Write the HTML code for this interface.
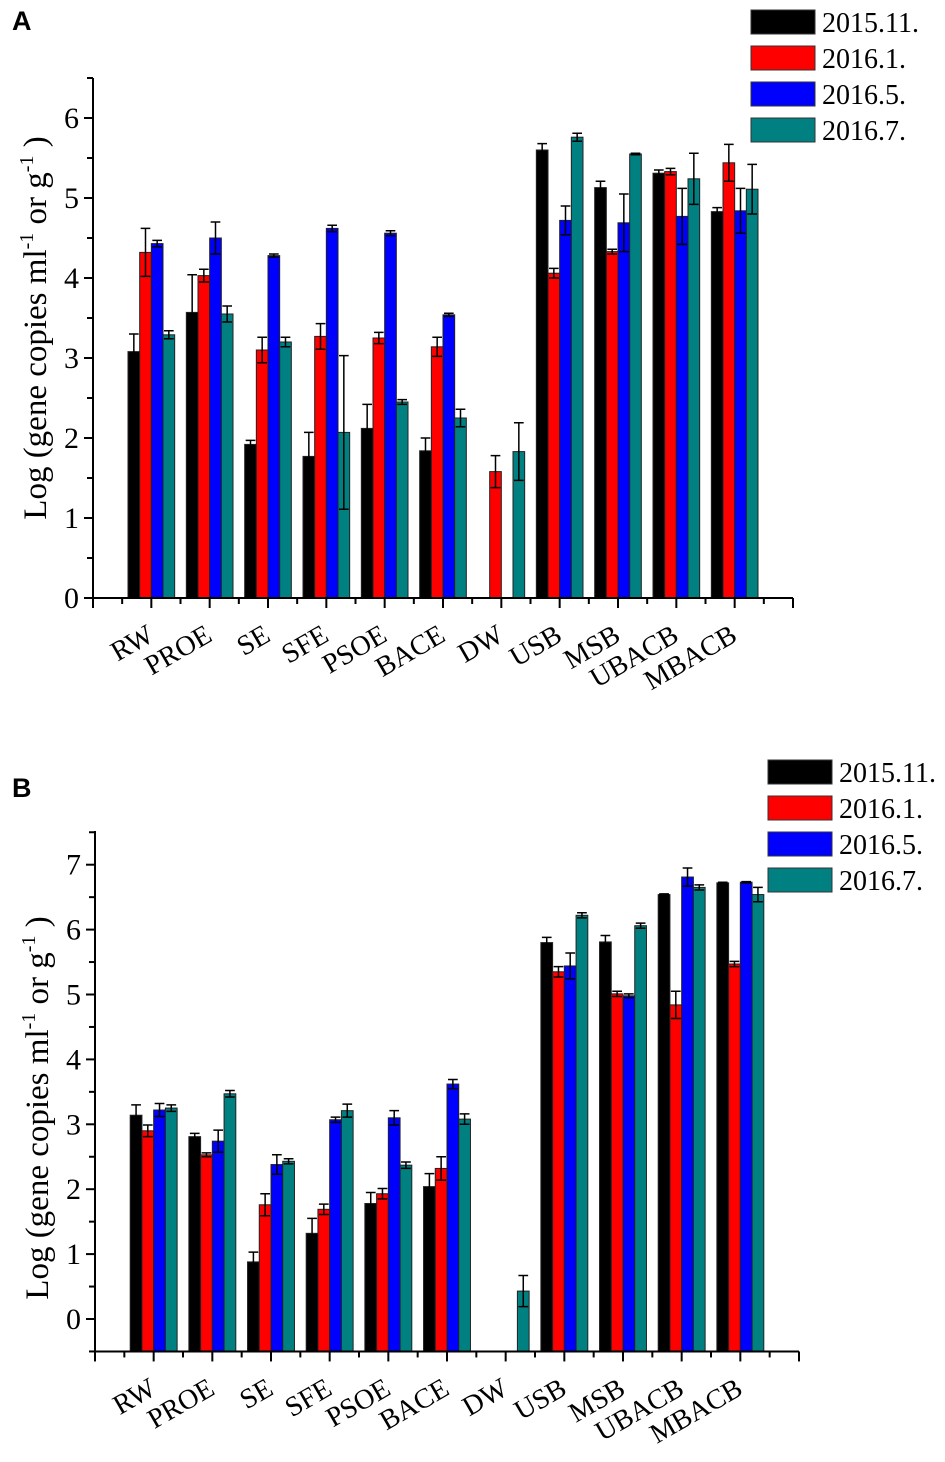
<!DOCTYPE html>
<html><head><meta charset="utf-8">
<style>
html,body{margin:0;padding:0;background:#fff;}
svg{display:block;}
text{font-family:"Liberation Serif",serif;fill:#000;}
</style></head>
<body>
<svg id="chart" width="945" height="1462" viewBox="0 0 945 1462" xmlns="http://www.w3.org/2000/svg"></svg>
<script>
const categories = ["RW","PROE","SE","SFE","PSOE","BACE","DW","USB","MSB","UBACB","MBACB"];
const seriesNames = ["2015.11.","2016.1.","2016.5.","2016.7."];
const seriesColors = ["#000000","#ff0000","#0000ff","#008080"];

const aNov15 = [3.08,3.57,1.92,1.77,2.12,1.84,0,5.60,5.13,5.31,4.83];
const aJan16 = [4.32,4.03,3.10,3.27,3.25,3.14,1.58,4.06,4.33,5.33,5.44];
const aMay16 = [4.43,4.50,4.28,4.62,4.56,3.54,0,4.72,4.69,4.77,4.84];
const aJul16 = [3.29,3.55,3.20,2.07,2.45,2.25,1.83,5.76,5.55,5.24,5.11];
const aErrNov15 = [0.22,0.47,0.05,0.30,0.30,0.16,0,0.08,0.08,0.04,0.05];
const aErrJan16 = [0.30,0.08,0.16,0.16,0.07,0.12,0.20,0.06,0.03,0.04,0.23];
const aErrMay16 = [0.04,0.20,0.02,0.04,0.03,0.02,0,0.18,0.36,0.35,0.28];
const aErrJul16 = [0.05,0.10,0.06,0.96,0.03,0.11,0.36,0.05,0.01,0.32,0.31];
const aTicks = [0,1,2,3,4,5,6];

const bNov15 = [3.14,2.81,0.88,1.32,1.78,2.04,0,5.80,5.81,6.54,6.72];
const bJan16 = [2.90,2.53,1.76,1.69,1.93,2.32,0,5.35,5.01,4.84,5.47];
const bMay16 = [3.22,2.74,2.38,3.07,3.10,3.62,0,5.44,4.98,6.81,6.73];
const bJul16 = [3.25,3.47,2.43,3.21,2.37,3.08,0.43,6.22,6.06,6.65,6.54];
const bErrNov15 = [0.16,0.05,0.15,0.23,0.17,0.20,0,0.08,0.10,0.01,0.01];
const bErrJan16 = [0.09,0.03,0.17,0.08,0.08,0.18,0,0.08,0.04,0.21,0.04];
const bErrMay16 = [0.10,0.17,0.15,0.04,0.11,0.07,0,0.20,0.03,0.14,0.01];
const bErrJul16 = [0.05,0.05,0.04,0.10,0.05,0.08,0.24,0.04,0.04,0.04,0.11];
const bTicks = [0,1,2,3,4,5,6,7];

const NS = "http://www.w3.org/2000/svg";
const svg = document.getElementById("chart");
function mk(tag, attrs, parent){
  const e = document.createElementNS(NS, tag);
  for (const k in attrs) e.setAttribute(k, attrs[k]);
  (parent||svg).appendChild(e);
  return e;
}

function panel(cfg){
  const g = mk("g", {});
  
  
  const yS = v => cfg.y0 - (v) * cfg.ppu;
  const step = (cfg.xRight - cfg.xLeft) / 12;
  const xS = i => cfg.xLeft + (i + 1) * step;
  const bw = step * 0.2;
  const vals = cfg.vals, errs = cfg.errs;
  for (let s = 0; s < 4; s++){
    for (let i = 0; i < categories.length; i++){
      const v = vals[s][i];
      if (v <= 0) continue;
      const x = xS(i) - 2 * bw + s * bw;
      const r = mk("rect", {x: x, y: yS(v), width: bw, height: yS(cfg.yMin) - yS(v), fill: seriesColors[s], stroke: "#222", "stroke-width": 1}, g);
      
      
      const e = errs[s][i];
      if (e > 0){
        const cx = x + bw / 2;
        const eb = mk("path", {d: "M"+cx+","+yS(v+e)+"V"+yS(v-e)+"M"+(x+1)+","+yS(v+e)+"H"+(x+bw-1)+"M"+(x+1)+","+yS(v-e)+"H"+(x+bw-1), stroke: "#000", "stroke-width": 1.5, fill: "none"}, g);
        
        
      }
    }
  }
  const ax = mk("path", {d: "M"+cfg.xLeft+","+cfg.yTop+"V"+yS(cfg.yMin)+"H"+cfg.xRight, stroke: "#000", "stroke-width": 2, fill: "none"}, g);
  
  
  for (let v = cfg.yMin; v <= cfg.yMax + 1e-9; v += 0.5){
    const major = Math.abs(v - Math.round(v)) < 1e-9;
    mk("line", {x1: cfg.xLeft - (major ? 9 : 6), x2: cfg.xLeft, y1: yS(v), y2: yS(v), stroke: "#000", "stroke-width": 2}, g);
  }
  cfg.ticks.forEach(t => {
    const tl = mk("text", {x: cfg.xLeft - 14, y: yS(t) + 10, "text-anchor": "end", "font-size": 30}, g);
    tl.textContent = t;
    
    
  });
  for (let k = 0; k <= 24; k++){
    const x = cfg.xLeft + k * step / 2;
    mk("line", {x1: x, x2: x, y1: yS(cfg.yMin), y2: yS(cfg.yMin) + (k % 2 === 0 ? 10 : 6), stroke: "#000", "stroke-width": 2}, g);
  }
  categories.forEach((c, i) => {
    const x = xS(i) + 4, y = yS(cfg.yMin) + 42;
    const t = mk("text", {x: x, y: y, "text-anchor": "end", "font-size": 28, transform: "rotate(-30 " + x + " " + y + ")"}, g);
    t.textContent = c;
    
    
  });
  const ty = mk("text", {x: 0, y: 0, "text-anchor": "middle", "font-size": 33, transform: "translate(" + cfg.titleX + "," + cfg.titleY + ") rotate(-90)"}, g);
  
  
  ty.innerHTML = 'Log (gene copies ml<tspan dy="-13" font-size="20">-1</tspan><tspan dy="13"> or g</tspan><tspan dy="-13" font-size="20">-1</tspan><tspan dy="13"> )</tspan>';
  const pl = mk("text", {x: 12, y: cfg.letterY, "font-size": 27, "font-weight": "bold", style: "font-family:'Liberation Sans',sans-serif"}, g);
  pl.textContent = cfg.letter;
  
  
  seriesNames.forEach((n, s) => {
    const ly = cfg.legY + s * 36;
    const lr = mk("rect", {x: cfg.legX, y: ly, width: 64, height: 24, fill: seriesColors[s], stroke: "#333", "stroke-width": 1}, g);
    
    
    const lt = mk("text", {x: cfg.legX + 71, y: ly + 22, "font-size": 28}, g);
    lt.textContent = n;
    
    
  });
}

panel({name: "panel-a", letter: "A", letterY: 30, xLeft: 93, xRight: 793, y0: 598, ppu: 80, yMin: 0, yMax: 6.5, yTop: 78,
  ticks: aTicks, vals: [aNov15, aJan16, aMay16, aJul16], errs: [aErrNov15, aErrJan16, aErrMay16, aErrJul16],
  titleX: 46, titleY: 328, legX: 751, legY: 10});
panel({name: "panel-b", letter: "B", letterY: 797, xLeft: 95, xRight: 799, y0: 1319, ppu: 64.9, yMin: -0.5, yMax: 7.5, yTop: 831,
  ticks: bTicks, vals: [bNov15, bJan16, bMay16, bJul16], errs: [bErrNov15, bErrJan16, bErrMay16, bErrJul16],
  titleX: 48, titleY: 1108, legX: 768, legY: 760});
</script>
</body></html>
